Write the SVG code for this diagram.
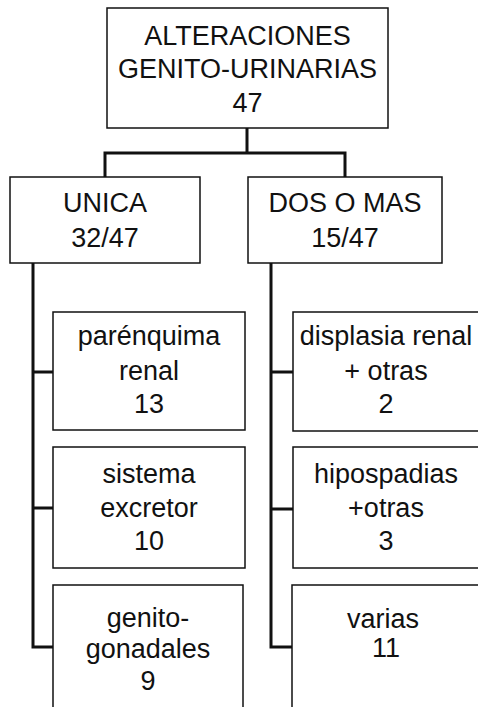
<svg xmlns="http://www.w3.org/2000/svg" width="478" height="707" viewBox="0 0 478 707">
<style>
.box{fill:#fff;stroke:#111;stroke-width:1.5}
.t{font-family:"Liberation Sans",Arial,sans-serif;font-size:27px;fill:#111;text-anchor:middle}
.c{fill:none;stroke:#111;stroke-width:3;stroke-linejoin:miter;stroke-linecap:square}
</style>
<rect width="478" height="707" fill="#fff"/>
<g id="connectors">
<path class="c" d="M247,128 V153 M105,177 V153 H345 V177"/>
<path class="c" d="M33,263 V647 H53 M33,372 H53 M33,508 H53"/>
<path class="c" d="M271,263 V647 H292 M271,372 H292 M271,509 H292"/>
</g>
<g id="root">
<rect class="box" x="107" y="8" width="281" height="120"/>
<text class="t" x="247.5" y="45">ALTERACIONES</text>
<text class="t" x="247.5" y="78">GENITO-URINARIAS</text>
<text class="t" x="247.5" y="112">47</text>
</g>
<g id="unica">
<rect class="box" x="10" y="177" width="190" height="86"/>
<text class="t" x="105" y="212">UNICA</text>
<text class="t" x="105" y="247">32/47</text>
</g>
<g id="dos">
<rect class="box" x="248" y="177" width="194" height="86"/>
<text class="t" x="345" y="212">DOS O MAS</text>
<text class="t" x="345" y="247">15/47</text>
</g>
<g id="parenquima">
<rect class="box" x="53" y="312" width="192" height="118"/>
<text class="t" x="149" y="345">parénquima</text>
<text class="t" x="149" y="380">renal</text>
<text class="t" x="149" y="413">13</text>
</g>
<g id="sistema">
<rect class="box" x="53" y="447" width="192" height="121"/>
<text class="t" x="149" y="483">sistema</text>
<text class="t" x="149" y="517">excretor</text>
<text class="t" x="149" y="550">10</text>
</g>
<g id="genito">
<rect class="box" x="53" y="585" width="190" height="130"/>
<text class="t" x="148" y="627">genito-</text>
<text class="t" x="148" y="658">gonadales</text>
<text class="t" x="148" y="690">9</text>
</g>
<g id="displasia">
<rect class="box" x="293" y="312" width="190" height="119"/>
<text class="t" x="386" y="345">displasia renal</text>
<text class="t" x="386" y="380">+ otras</text>
<text class="t" x="386" y="413">2</text>
</g>
<g id="hipospadias">
<rect class="box" x="293" y="447" width="190" height="121"/>
<text class="t" x="386" y="483">hipospadias</text>
<text class="t" x="386" y="517">+otras</text>
<text class="t" x="386" y="550">3</text>
</g>
<g id="varias">
<rect class="box" x="292" y="585" width="191" height="130"/>
<text class="t" x="383" y="628">varias</text>
<text class="t" x="386" y="657">11</text>
</g>
</svg>
